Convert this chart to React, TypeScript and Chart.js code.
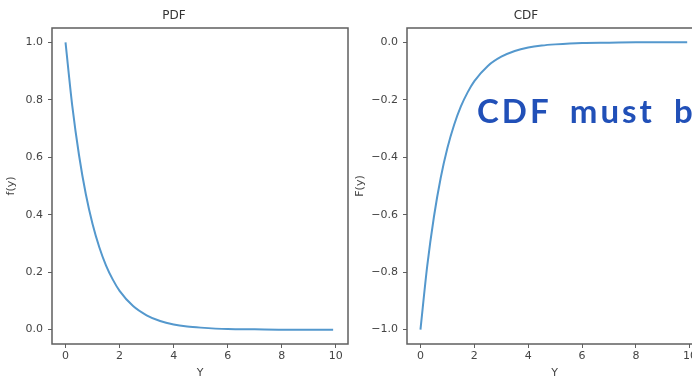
import React, { useEffect, useRef } from "react";
import { Chart, registerables } from "chart.js";

Chart.register(...registerables);

// Values
const yValues = [0, 0.25, 0.5, 0.75, 1.0, 1.25, 1.5, 1.75, 2.0, 2.5, 3.0, 3.5, 4.0, 4.5, 5.0, 6.0, 7.0, 8.0, 9.0, 9.9];
const pdfValues = [1.0, 0.779, 0.607, 0.472, 0.368, 0.287, 0.223, 0.174, 0.135, 0.082, 0.05, 0.03, 0.018, 0.011, 0.007, 0.002, 0.001, 0.0, 0.0, 0.0];
const cdfValues = [-1.0, -0.779, -0.607, -0.472, -0.368, -0.287, -0.223, -0.174, -0.135, -0.082, -0.05, -0.03, -0.018, -0.011, -0.007, -0.002, -0.001, 0.0, 0.0, 0.0];

const xTicks = [0, 2, 4, 6, 8, 10];
const pdfTicks = [0.0, 0.2, 0.4, 0.6, 0.8, 1.0];
const cdfTicks = [-1.0, -0.8, -0.6, -0.4, -0.2, 0.0];

const annotationText = "CDF must be";

const LINE = "rgb(84,152,205)";
const FRAME = "#5f5f5f";
const TEXT = "#444";
const FONT = "'DejaVu Sans', sans-serif";

const fmt = (v: number) => {
  const s = Math.abs(v).toFixed(1);
  return v < -1e-9 ? "\u2212" + s : s;
};

const framePlugin = {
  id: "frame",
  afterDraw(chart: any) {
    const { ctx, chartArea } = chart;
    ctx.save();
    ctx.strokeStyle = FRAME;
    ctx.lineWidth = 1.5;
    ctx.strokeRect(chartArea.left, chartArea.top, chartArea.right - chartArea.left, chartArea.bottom - chartArea.top);
    ctx.restore();
  },
};

function makeConfig(opts: {
  title: string;
  yLabel: string;
  values: number[];
  yTicks: number[];
  yMin: number;
  yMax: number;
  yWidth: number;
  padRight: number;
  yTitlePad: number;
}) {
  const data = yValues.map((x, i) => ({ x, y: opts.values[i] }));
  return {
    type: "line" as const,
    data: {
      datasets: [
        {
          data,
          borderColor: LINE,
          borderWidth: 2,
          pointRadius: 0,
          fill: false,
          cubicInterpolationMode: "monotone" as const,
        },
      ],
    },
    options: {
      responsive: false,
      animation: false as const,
      layout: { padding: { left: 0, top: 0, right: opts.padRight, bottom: 0 } },
      plugins: {
        legend: { display: false },
        tooltip: { enabled: false },
        title: {
          display: true,
          text: opts.title,
          color: "#333",
          font: { family: FONT, size: 12, weight: "normal" as const, lineHeight: 1.2 },
          padding: { top: 8.3, bottom: 5.3 },
        },
      },
      scales: {
        x: {
          type: "linear" as const,
          min: -0.5,
          max: 10.45,
          afterFit: (s: any) => {
            s.height = 40;
          },
          afterBuildTicks: (s: any) => {
            s.ticks = xTicks.map((v) => ({ value: v }));
          },
          border: { display: false },
          grid: { display: true, drawOnChartArea: false, drawTicks: true, tickLength: 4, color: FRAME, lineWidth: 1 },
          ticks: {
            color: TEXT,
            padding: 2,
            maxRotation: 0,
            autoSkip: false,
            font: { family: FONT, size: 11 },
            callback: (v: any) => String(v),
          },
          title: {
            display: true,
            text: "Y",
            color: TEXT,
            font: { family: FONT, size: 11, lineHeight: 1.2 },
            padding: { top: 0, bottom: 4 },
          },
        },
        y: {
          type: "linear" as const,
          min: opts.yMin,
          max: opts.yMax,
          afterFit: (s: any) => {
            s.width = opts.yWidth;
          },
          afterBuildTicks: (s: any) => {
            s.ticks = opts.yTicks.map((v) => ({ value: v }));
          },
          border: { display: false },
          grid: { display: true, drawOnChartArea: false, drawTicks: true, tickLength: 4, color: FRAME, lineWidth: 1 },
          ticks: {
            color: TEXT,
            padding: 5,
            autoSkip: false,
            font: { family: FONT, size: 11 },
            callback: (v: any) => fmt(Number(v)),
          },
          title: {
            display: true,
            text: opts.yLabel,
            color: TEXT,
            font: { family: FONT, size: 11, lineHeight: 1.2 },
            padding: { top: opts.yTitlePad, bottom: 0 },
          },
        },
      },
    },
    plugins: [framePlugin],
  };
}

export default function App() {
  const leftRef = useRef<HTMLCanvasElement | null>(null);
  const rightRef = useRef<HTMLCanvasElement | null>(null);

  useEffect(() => {
    const c1 = new Chart(
      leftRef.current as HTMLCanvasElement,
      makeConfig({
        title: "PDF",
        yLabel: "f(y)",
        values: pdfValues,
        yTicks: pdfTicks,
        yMin: -0.05,
        yMax: 1.05,
        yWidth: 52,
        padRight: 14,
        yTitlePad: 4.4,
      }) as any
    );
    const c2 = new Chart(
      rightRef.current as HTMLCanvasElement,
      makeConfig({
        title: "CDF",
        yLabel: "F(y)",
        values: cdfValues,
        yTicks: cdfTicks,
        yMin: -1.05,
        yMax: 0.05,
        yWidth: 57,
        padRight: 20,
        yTitlePad: 3.4,
      }) as any
    );
    return () => {
      c1.destroy();
      c2.destroy();
    };
  }, []);

  return (
    <div
      style={{
        position: "fixed",
        left: 0,
        top: 0,
        width: 692,
        height: 377,
        overflow: "hidden",
        background: "#fff",
      }}
    >
      <canvas ref={leftRef} width={362} height={384} style={{ position: "absolute", left: 0, top: 0 }} />
      <canvas ref={rightRef} width={372} height={384} style={{ position: "absolute", left: 350, top: 0 }} />
      <div
        style={{
          position: "absolute",
          left: 477,
          top: 90,
          fontFamily: "Lato, sans-serif",
          fontWeight: 700,
          fontSize: 33,
          lineHeight: "40px",
          letterSpacing: "3px",
          wordSpacing: "8px",
          color: "#2150b8",
          whiteSpace: "nowrap",
        }}
      >
        {annotationText}
      </div>
    </div>
  );
}
